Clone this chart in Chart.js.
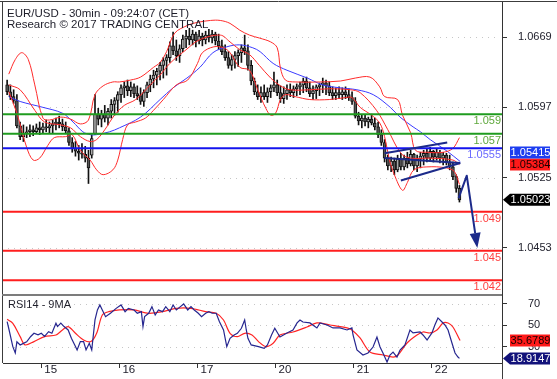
<!DOCTYPE html>
<html><head><meta charset="utf-8">
<script src="https://cdn.jsdelivr.net/npm/chart.js@4.4.1/dist/chart.umd.min.js"></script>
<style>
html,body{margin:0;padding:0;background:#fff;}
#wrap{position:relative;width:557px;height:379px;overflow:hidden;background:#fff;}
canvas{position:absolute;left:0;}
#c1{top:0;width:557px;height:296px;} #c2{top:296px;width:557px;height:83px;}
</style></head><body>
<div id="wrap"><canvas id="c1" width="557" height="296"></canvas><canvas id="c2" width="557" height="83"></canvas></div>
<script>
// ---------------- DATA ----------------
const dayLabels = ['15','16','17','20','21','22'];
const dayStartBars = [0,48,96,144,192,240];          // 30-min bar number where each day starts
const candleStartBar = -21, candleStepBars = 2;      // hourly candles
const opens = [1.0620,1.0613,1.0608,1.0604,1.0578,1.0567,1.0570,1.0572,1.0574,1.0572,
1.0576,1.0574,1.0577,1.0576,1.0578,1.0580,1.0582,1.0580,1.0577,1.0573,
1.0561,1.0555,1.0552,1.0550,1.0549,1.0545,1.0548,1.0570,1.0590,1.0585,
1.0590,1.0586,1.0593,1.0600,1.0604,1.0610,1.0617,1.0619,1.0614,1.0618,
1.0611,1.0609,1.0603,1.0612,1.0620,1.0626,1.0630,1.0634,1.0640,1.0645,
1.0648,1.0660,1.0655,1.0650,1.0657,1.0667,1.0670,1.0666,1.0672,1.0665,
1.0670,1.0666,1.0671,1.0668,1.0672,1.0665,1.0660,1.0654,1.0648,1.0640,
1.0646,1.0650,1.0653,1.0658,1.0655,1.0640,1.0624,1.0613,1.0608,1.0612,
1.0608,1.0613,1.0617,1.0620,1.0612,1.0606,1.0611,1.0615,1.0612,1.0616,
1.0618,1.0620,1.0624,1.0617,1.0611,1.0614,1.0618,1.0620,1.0622,1.0619,
1.0612,1.0609,1.0612,1.0610,1.0613,1.0610,1.0607,1.0603,1.0588,1.0583,
1.0586,1.0582,1.0585,1.0581,1.0577,1.0569,1.0561,1.0545,1.0537,1.0542,
1.0533,1.0544,1.0536,1.0545,1.0539,1.0549,1.0537,1.0544,1.0547,1.0550,
1.0545,1.0552,1.0546,1.0551,1.0545,1.0548,1.0541,1.0536,1.0526,1.0514];
const highs = [1.0625,1.0620,1.0615,1.0610,1.0582,1.0579,1.0577,1.0579,1.0578,1.0580,
1.0582,1.0581,1.0584,1.0582,1.0584,1.0586,1.0588,1.0585,1.0582,1.0576,
1.0566,1.0562,1.0558,1.0560,1.0557,1.0553,1.0569,1.0610,1.0596,1.0594,
1.0599,1.0596,1.0605,1.0607,1.0613,1.0620,1.0623,1.0625,1.0623,1.0621,
1.0619,1.0617,1.0615,1.0623,1.0630,1.0635,1.0637,1.0643,1.0648,1.0651,
1.0664,1.0674,1.0666,1.0661,1.0671,1.0676,1.0678,1.0676,1.0674,1.0676,
1.0673,1.0675,1.0677,1.0676,1.0674,1.0672,1.0666,1.0661,1.0654,1.0651,
1.0654,1.0656,1.0661,1.0671,1.0661,1.0645,1.0627,1.0620,1.0618,1.0620,
1.0617,1.0620,1.0633,1.0625,1.0619,1.0618,1.0620,1.0621,1.0619,1.0621,
1.0623,1.0627,1.0628,1.0623,1.0619,1.0620,1.0622,1.0627,1.0625,1.0623,
1.0618,1.0617,1.0618,1.0617,1.0618,1.0616,1.0613,1.0607,1.0592,1.0589,
1.0589,1.0587,1.0590,1.0586,1.0582,1.0574,1.0564,1.0548,1.0546,1.0545,
1.0548,1.0550,1.0548,1.0551,1.0553,1.0550,1.0548,1.0551,1.0553,1.0555,
1.0556,1.0553,1.0555,1.0553,1.0551,1.0550,1.0548,1.0541,1.0528,1.0517];
const lows = [1.0610,1.0605,1.0601,1.0576,1.0564,1.0562,1.0566,1.0567,1.0568,1.0570,
1.0569,1.0571,1.0572,1.0571,1.0570,1.0574,1.0576,1.0573,1.0570,1.0558,
1.0551,1.0547,1.0543,1.0545,1.0541,1.0519,1.0545,1.0569,1.0579,1.0577,
1.0582,1.0579,1.0586,1.0589,1.0592,1.0602,1.0607,1.0609,1.0608,1.0607,
1.0605,1.0600,1.0598,1.0607,1.0613,1.0617,1.0620,1.0625,1.0627,1.0630,
1.0643,1.0651,1.0645,1.0643,1.0654,1.0658,1.0661,1.0661,1.0659,1.0662,
1.0660,1.0662,1.0664,1.0663,1.0661,1.0656,1.0651,1.0645,1.0637,1.0635,
1.0637,1.0639,1.0643,1.0651,1.0635,1.0620,1.0610,1.0605,1.0602,1.0605,
1.0602,1.0607,1.0613,1.0609,1.0602,1.0601,1.0605,1.0608,1.0607,1.0609,
1.0610,1.0612,1.0613,1.0608,1.0605,1.0606,1.0609,1.0612,1.0610,1.0609,
1.0605,1.0605,1.0606,1.0605,1.0606,1.0604,1.0600,1.0586,1.0579,1.0576,
1.0578,1.0576,1.0579,1.0574,1.0566,1.0558,1.0541,1.0533,1.0531,1.0528,
1.0531,1.0533,1.0533,1.0535,1.0537,1.0533,1.0531,1.0535,1.0538,1.0541,
1.0543,1.0541,1.0543,1.0540,1.0538,1.0538,1.0533,1.0523,1.0510,1.0500];
const closes = [1.0613,1.0608,1.0604,1.0578,1.0567,1.0570,1.0572,1.0574,1.0572,1.0576,
1.0574,1.0577,1.0576,1.0578,1.0580,1.0582,1.0580,1.0577,1.0573,1.0561,
1.0555,1.0552,1.0550,1.0549,1.0545,1.0535,1.0565,1.0590,1.0585,1.0590,
1.0586,1.0593,1.0600,1.0604,1.0610,1.0617,1.0619,1.0614,1.0618,1.0611,
1.0609,1.0603,1.0612,1.0620,1.0626,1.0630,1.0634,1.0640,1.0645,1.0648,
1.0660,1.0655,1.0650,1.0657,1.0667,1.0670,1.0666,1.0672,1.0665,1.0670,
1.0666,1.0671,1.0668,1.0672,1.0665,1.0660,1.0654,1.0648,1.0640,1.0646,
1.0650,1.0653,1.0658,1.0655,1.0640,1.0624,1.0613,1.0608,1.0612,1.0608,
1.0613,1.0617,1.0620,1.0612,1.0606,1.0611,1.0615,1.0612,1.0616,1.0618,
1.0620,1.0624,1.0617,1.0611,1.0614,1.0618,1.0620,1.0622,1.0619,1.0612,
1.0609,1.0612,1.0610,1.0613,1.0610,1.0607,1.0603,1.0588,1.0583,1.0586,
1.0582,1.0585,1.0581,1.0577,1.0569,1.0561,1.0545,1.0537,1.0542,1.0533,
1.0544,1.0536,1.0545,1.0539,1.0549,1.0537,1.0544,1.0547,1.0550,1.0545,
1.0552,1.0546,1.0551,1.0545,1.0548,1.0541,1.0536,1.0526,1.0514,1.05023];

// Bollinger bands (bar, price)
const bbUpper = [[-20,1.0631],[-16,1.0646],[-12,1.0653],[-8,1.0646],[-4,1.0620],[1,1.0586],[5,1.0584],[12,1.0587],[18,1.0585],[24,1.0580],[29,1.0584],[33,1.0610],[38,1.0619],[44,1.0623],[48,1.0623],[55,1.0625],[61,1.0628],[69,1.0638],[73,1.0643],[77,1.0654],[82,1.0673],[90,1.0681],[96,1.0684],[104,1.0686],[110,1.0686],[116,1.0683],[122,1.0676],[128,1.0671],[134,1.0668],[141,1.0664],[145,1.0658],[147,1.0637],[150,1.0625],[156,1.0623],[171,1.0623],[184,1.0624],[193,1.0627],[202,1.0628],[208,1.0618],[211,1.0608],[219,1.0605],[222,1.0589],[227,1.0571],[230,1.0553],[237,1.0551],[247,1.0551],[253,1.0555],[257,1.0566]];
const bbMiddle = [[-20,1.0620],[-13,1.0615],[-4,1.0594],[2,1.0582],[12,1.0579],[18,1.0576],[24,1.0567],[30,1.0562],[34,1.0564],[39,1.0574],[45,1.0589],[51,1.0599],[58,1.0605],[67,1.0620],[73,1.0630],[79,1.0642],[89,1.0656],[97,1.0666],[110,1.0671],[116,1.0664],[122,1.0656],[128,1.0651],[134,1.0640],[141,1.0627],[147,1.0619],[153,1.0615],[165,1.0615],[177,1.0616],[190,1.0615],[196,1.0612],[206,1.0594],[213,1.0574],[221,1.0550],[227,1.0545],[239,1.0545],[253,1.0543],[257,1.05384]];
const bbLower = [[-20,1.0613],[-15,1.0591],[-9,1.0556],[-5,1.0543],[-1,1.0545],[4,1.0558],[8,1.0566],[15,1.0567],[19,1.0569],[24,1.0553],[30,1.0543],[34,1.0533],[38,1.0528],[44,1.0533],[47,1.0543],[50,1.0564],[53,1.0579],[58,1.0582],[64,1.0586],[69,1.0594],[75,1.0605],[83,1.0620],[90,1.0625],[96,1.0642],[99,1.0653],[106,1.0659],[112,1.0658],[116,1.0653],[122,1.0638],[128,1.0635],[133,1.0615],[138,1.0596],[141,1.0589],[144,1.0591],[147,1.0605],[150,1.0610],[156,1.0608],[165,1.0605],[177,1.0605],[187,1.0607],[191,1.0607],[196,1.0597],[203,1.0589],[208,1.0581],[211,1.0567],[214,1.0543],[217,1.0528],[222,1.0512],[225,1.0520],[229,1.0533],[237,1.0536],[249,1.0535],[254,1.0531],[257,1.0518]];
const blueMA = [[-20,1.0608],[-13,1.0603],[1,1.0597],[13,1.0591],[19.5,1.0582],[25.5,1.0572],[30,1.0569],[34,1.0569],[42,1.0572],[48,1.0576],[61,1.0587],[73,1.0605],[81,1.0617],[89.5,1.0627],[97.5,1.0638],[105.5,1.0653],[114,1.0659],[122,1.0661],[130,1.0658],[134.5,1.0654],[142.5,1.0642],[151,1.0635],[163.5,1.0627],[173,1.0620],[183.5,1.0617],[194,1.0615],[204,1.0610],[214.5,1.0597],[220.5,1.0587],[228.5,1.0577],[233,1.0572],[239,1.0564],[249.5,1.0552],[257.5,1.05415]];

// RSI(14) and its 9-period MA (bar, value)
const rsi14 = [[-21,53.4],[-20,47],[-17.5,30],[-16,24],[-15,34.5],[-13,31.5],[-11,33],[-9,34.5],[-6.5,39.5],[-4.5,42.5],[-2,41],[0,42.5],[2,39.5],[4.5,44],[6.5,42.5],[9,52],[10,48.8],[12,52],[14,48.8],[16.5,45.6],[18.5,37.8],[21,30],[22,26.9],[24,34.7],[26,34.7],[27.5,26.9],[29.5,33.1],[31,26.9],[33,55],[34.5,64.4],[36,69.1],[37.5,64.4],[39.5,58.1],[42.5,61.3],[46,65.9],[49,69.1],[51.5,62.8],[53.5,65.9],[57,64.4],[59,61.3],[61.5,62.8],[62.5,48.8],[63.5,58.1],[66,61.3],[68,67.5],[70,59.7],[72,64.4],[74.5,62.8],[76.5,67.5],[79,62.8],[81,69.1],[83,64.4],[85.5,67.5],[87.5,70],[90,64.4],[92,67.5],[94,64.4],[96.5,61.3],[98.5,58.1],[101,61.3],[103,62.8],[105,61.3],[107.5,61.3],[109.5,53.4],[112,45.6],[114,30],[116,37.8],[118.5,40.9],[120.5,42.5],[123,47.2],[125,55],[126,45.6],[127,37.8],[129,31.6],[133.5,30],[137,28.4],[139,31.6],[141.5,40.9],[143.5,47.2],[146.7,39],[151,42.8],[154.7,45.6],[157.2,52.2],[159,55],[160.8,53.1],[165.1,52.2],[169.4,47.5],[171.3,52.2],[175.6,50.3],[179.3,47.5],[183.6,47.5],[187.9,45.6],[190.9,47.5],[191.6,40.9],[194,26.8],[197.7,22.1],[200.8,24],[203.9,29.6],[206.3,39],[208.2,29.6],[210,24],[212.5,15.5],[214.3,22.1],[216.2,24.9],[218.6,20.2],[220.5,26.8],[223.5,31.5],[226.6,45.6],[228.5,42.8],[232.8,43.7],[234.6,40.9],[237.1,36.2],[240.1,42.8],[241.9,50.3],[243.8,56.9],[246.3,53.1],[248.1,50.3],[250,45.6],[252.4,33.4],[254.3,24],[256.1,20.2],[257,18.9147]];
const rsiMA9 = [[-21,55.6],[-17.5,51.9],[-13,39.4],[-10,31.6],[-4.5,34.7],[2,39.4],[9,40.9],[13,45.6],[16.5,48.8],[21,42.5],[26,36.2],[30.5,34.7],[34,42.5],[37.5,59.7],[41.5,62.8],[48,64.4],[57,64.4],[66,61.3],[74.5,62.8],[83,65.9],[92,65.9],[101,62.8],[107.5,61.3],[112,55],[116,42.5],[120.5,39.4],[125,42.5],[129.5,40.9],[133.5,34.7],[138,30],[142.5,33.1],[146.7,40.9],[154.7,43.7],[163.3,48.4],[169.4,52.2],[177.4,50.3],[187.9,47.5],[190.9,45.6],[195.9,38.1],[202,24.9],[210,22.1],[216.2,20.2],[219.2,22.1],[224.8,33.4],[230.9,40.9],[234.6,43.7],[238.9,42.8],[243.2,45.6],[246.9,52.2],[250,52.2],[253,48.4],[257.4,35.6789]];

// Horizontal levels
const greenLevels = [1.059, 1.057];
const blueLevels = [1.0555];
const redLevels = [1.049, 1.045, 1.042];
const priceTicks = [1.0453, 1.0525, 1.0597, 1.0669];
const rsiTicks = [30, 50, 70];

// Analyst drawings (bar, price)
const flagLines = [[[211,1.0550],[249.5,1.0561]], [[211,1.0545],[257.5,1.0540]], [[221,1.0522],[257.5,1.0540]]];
const forecastPath = [[256.5,1.0504],[261.5,1.0527],[268,1.0453]];

// axis ranges
const xMin = -23.54, xMax = 283.16;
const priceMin = 1.04048, priceMax = 1.07049;
const rsiMin = 14.6, rsiMax = 77.5;

// ---------------- RENDER ----------------
const FONT = '"Liberation Sans Narrow", "Liberation Sans", Arial, sans-serif';
Chart.defaults.font.family = FONT;
Chart.defaults.font.size = 11;
Chart.defaults.color = '#22222e';

const candleBars = opens.map((o, i) => candleStartBar + i * candleStepBars);
const xy = arr => arr.map(([x, y]) => ({x, y}));
const last = arr => arr[arr.length - 1][1];
const noPad = (w, h) => s => { if (w) s.width = w; if (h) s.height = h; s.paddingTop = 0; s.paddingBottom = 0; s.paddingLeft = 0; s.paddingRight = 0; };

function drawBox(ctx, cy, text, bg, fg, arrow) {
  const h = 12, x0 = 510, x1 = 550;
  ctx.save();
  ctx.fillStyle = bg; ctx.beginPath();
  if (arrow) { ctx.moveTo(503, cy); ctx.lineTo(x0, cy - h / 2); } else ctx.moveTo(x0, cy - h / 2);
  ctx.lineTo(x1, cy - h / 2); ctx.lineTo(x1, cy + h / 2); ctx.lineTo(x0, cy + h / 2);
  if (arrow) ctx.lineTo(503, cy);
  ctx.closePath(); ctx.fill();
  ctx.fillStyle = fg; ctx.font = '11px ' + FONT; ctx.textAlign = 'center'; ctx.textBaseline = 'middle';
  ctx.fillText(text, (x0 + x1) / 2 + 0.5, cy + 0.5);
  ctx.restore();
}
function dots(ctx, a, py) {
  for (let px = a.left + 5; px < a.right - 2; px += 6) ctx.fillRect(px, py, 1, 1);
}

const pricePlugin = {
  id: 'pricePlugin',
  beforeDatasetsDraw(chart) {
    const {ctx, chartArea: a, scales: {y}} = chart;
    ctx.save(); ctx.fillStyle = '#c6c6c6';
    priceTicks.forEach(v => dots(ctx, a, Math.round(y.getPixelForValue(v))));
    ctx.restore();
  },
  afterDatasetsDraw(chart) {
    const {ctx, chartArea: a, scales: {x, y}} = chart;
    ctx.save();
    ctx.beginPath(); ctx.rect(a.left, a.top, a.right - a.left, a.bottom - a.top); ctx.clip();
    const groups = [[greenLevels, '#1f9c1f', '#5ea83c'], [blueLevels, '#1414ee', '#6a6aff'], [redLevels, '#ff1e1e', '#ff4040']];
    ctx.font = '11px ' + FONT; ctx.textAlign = 'right'; ctx.textBaseline = 'alphabetic';
    groups.forEach(([vals, lc, tc]) => vals.forEach(v => {
      const py = y.getPixelForValue(v);
      ctx.strokeStyle = lc; ctx.lineWidth = 2;
      ctx.beginPath(); ctx.moveTo(a.left, py); ctx.lineTo(a.right, py); ctx.stroke();
      ctx.fillStyle = tc;
      ctx.fillText(String(v), a.right - 1, py + 10);
    }));
    // flag + forecast arrow
    ctx.strokeStyle = '#1c2a8a'; ctx.fillStyle = '#1c2a8a'; ctx.lineWidth = 2; ctx.lineJoin = 'round';
    flagLines.forEach(seg => {
      ctx.beginPath();
      seg.forEach(([bx, p], i) => { const px = x.getPixelForValue(bx), py = y.getPixelForValue(p); i ? ctx.lineTo(px, py) : ctx.moveTo(px, py); });
      ctx.stroke();
    });
    const pts = forecastPath.map(([bx, p]) => [x.getPixelForValue(bx), y.getPixelForValue(p)]);
    const [tx, ty] = pts[pts.length - 1], [px0, py0] = pts[pts.length - 2];
    const ang = Math.atan2(ty - py0, tx - px0), L = 15, W = 5.5;
    const bxp = tx - L * Math.cos(ang), byp = ty - L * Math.sin(ang);
    ctx.beginPath(); ctx.moveTo(pts[0][0], pts[0][1]);
    for (let i = 1; i < pts.length - 1; i++) ctx.lineTo(pts[i][0], pts[i][1]);
    ctx.lineTo(bxp, byp); ctx.stroke();
    ctx.beginPath(); ctx.moveTo(tx, ty);
    ctx.lineTo(bxp + W * Math.sin(ang), byp - W * Math.cos(ang));
    ctx.lineTo(bxp - W * Math.sin(ang), byp + W * Math.cos(ang));
    ctx.closePath(); ctx.fill();
    ctx.restore();
  },
  afterDraw(chart) {
    const {ctx, chartArea: a, scales: {y}} = chart;
    ctx.save();
    // titles
    ctx.fillStyle = '#1e1e2a'; ctx.font = '11.5px ' + FONT; ctx.textAlign = 'left'; ctx.textBaseline = 'alphabetic';
    ctx.fillText('EUR/USD - 30min - 09:24:07 (CET)', 7, 17);
    ctx.fillText('Research \u00A9 2017 TRADING CENTRAL', 7, 28);
    // frame
    ctx.strokeStyle = '#3c3c3c'; ctx.lineWidth = 1;
    ctx.beginPath(); ctx.moveTo(0, 1.5); ctx.lineTo(557, 1.5); ctx.stroke();
    ctx.beginPath(); ctx.moveTo(2.5, 1); ctx.lineTo(2.5, 296); ctx.stroke();
    ctx.fillStyle = '#7c7c7c'; ctx.fillRect(2, 294, a.right - 2, 2);
    // value boxes
    const closeY = y.getPixelForValue(closes[closes.length - 1]);
    const midY = y.getPixelForValue(last(bbMiddle));
    let maY = y.getPixelForValue(last(blueMA));
    if (Math.abs(maY - midY) < 12) maY = midY - 12;
    drawBox(ctx, midY, last(bbMiddle).toFixed(5), '#ff1a1a', '#1a0000', false);
    drawBox(ctx, maY, last(blueMA).toFixed(5), '#1d3df0', '#ffffff', false);
    drawBox(ctx, closeY, closes[closes.length - 1].toFixed(5), '#000000', '#ffffff', true);
    ctx.restore();
  }
};

new Chart(document.getElementById('c1'), {
  type: 'bar',
  data: {
    datasets: [
      {type: 'line', data: xy(bbUpper), borderColor: '#ff2b2b', borderWidth: 1, pointRadius: 0, tension: 0.35, order: 1},
      {type: 'line', data: xy(bbMiddle), borderColor: '#ff2b2b', borderWidth: 1, pointRadius: 0, tension: 0.35, order: 1},
      {type: 'line', data: xy(bbLower), borderColor: '#ff2b2b', borderWidth: 1, pointRadius: 0, tension: 0.35, order: 1},
      {type: 'line', data: xy(blueMA), borderColor: '#3b3bff', borderWidth: 1, pointRadius: 0, tension: 0.35, order: 2},
      {type: 'bar', data: candleBars.map((b, i) => ({x: b, y: [lows[i], highs[i]]})), backgroundColor: '#111', barThickness: 1, grouped: false, order: 10},
      {type: 'bar', data: candleBars.map((b, i) => ({x: b, y: [Math.min(opens[i], closes[i]), Math.max(opens[i], closes[i])]})),
       backgroundColor: candleBars.map((b, i) => closes[i] >= opens[i] ? '#a9a9a9' : '#555'), borderColor: '#111', borderWidth: 1, borderSkipped: false,
       barThickness: 3, minBarLength: 1, grouped: false, order: 9}
    ]
  },
  options: {
    responsive: false, maintainAspectRatio: false, animation: false, devicePixelRatio: 1,
    layout: {autoPadding: false, padding: {left: 3, top: 2, right: 0, bottom: 1}},
    plugins: {legend: {display: false}, tooltip: {enabled: false}},
    scales: {
      x: {type: 'linear', min: xMin, max: xMax, display: false, offset: false, grid: {offset: false}},
      y: {position: 'right', min: priceMin, max: priceMax,
          afterBuildTicks: s => { s.ticks = priceTicks.map(v => ({value: v})); },
          afterFit: noPad(55, 0),
          ticks: {callback: v => v.toFixed(4), padding: 11, font: {size: 11}, color: '#22222e'},
          grid: {drawOnChartArea: false, drawTicks: true, tickLength: 5, color: '#333', tickWidth: 1},
          border: {display: true, color: '#333', width: 1}}
    }
  },
  plugins: [pricePlugin]
});

const rsiPlugin = {
  id: 'rsiPlugin',
  beforeDatasetsDraw(chart) {
    const {ctx, chartArea: a, scales: {y}} = chart;
    ctx.save(); ctx.fillStyle = '#c6c6c6';
    rsiTicks.forEach(v => dots(ctx, a, Math.round(y.getPixelForValue(v))));
    ctx.restore();
  },
  afterDraw(chart) {
    const {ctx, chartArea: a, scales: {y}} = chart;
    ctx.save();
    ctx.font = '11px ' + FONT; ctx.textAlign = 'left'; ctx.textBaseline = 'alphabetic';
    const w = ctx.measureText('RSI14 - 9MA').width;
    ctx.fillStyle = '#fff'; ctx.fillRect(6, 2, w + 4, 12);
    ctx.fillStyle = '#1e1e2a'; ctx.fillText('RSI14 - 9MA', 8, 11.5);
    ctx.strokeStyle = '#3c3c3c'; ctx.lineWidth = 1;
    ctx.beginPath(); ctx.moveTo(2.5, 0); ctx.lineTo(2.5, a.bottom); ctx.stroke();
    ctx.beginPath(); ctx.moveTo(a.right + 0.5, a.bottom); ctx.lineTo(a.right + 0.5, 83); ctx.stroke();
    drawBox(ctx, y.getPixelForValue(last(rsiMA9)), last(rsiMA9).toFixed(4), '#ff1a1a', '#1a0000', false);
    drawBox(ctx, y.getPixelForValue(last(rsi14)), last(rsi14).toFixed(4), '#12127a', '#ffffff', true);
    ctx.restore();
  }
};

new Chart(document.getElementById('c2'), {
  type: 'line',
  data: {
    datasets: [
      {data: xy(rsi14), borderColor: '#26268f', borderWidth: 1.2, pointRadius: 0, tension: 0, order: 1},
      {data: xy(rsiMA9), borderColor: '#ff2424', borderWidth: 1.2, pointRadius: 0, tension: 0.3, order: 2}
    ]
  },
  options: {
    responsive: false, maintainAspectRatio: false, animation: false, devicePixelRatio: 1,
    layout: {autoPadding: false, padding: {left: 3, top: 0, right: 0, bottom: 0}},
    plugins: {legend: {display: false}, tooltip: {enabled: false}},
    scales: {
      x: {type: 'linear', min: xMin, max: xMax, position: 'bottom', offset: false,
          afterBuildTicks: s => { s.ticks = dayStartBars.map(v => ({value: v})); },
          afterFit: noPad(0, 16),
          ticks: {callback: v => dayLabels[dayStartBars.indexOf(v)], autoSkip: false, maxRotation: 0, align: 'start', labelOffset: 3, padding: 0,
                  font: {size: 11.5, lineHeight: 0.4}, color: '#22222e'},
          grid: {drawOnChartArea: false, drawTicks: true, tickLength: 5, color: '#333', offset: false},
          border: {display: true, color: '#333', width: 1}},
      y: {position: 'right', min: rsiMin, max: rsiMax,
          afterBuildTicks: s => { s.ticks = rsiTicks.map(v => ({value: v})); },
          afterFit: noPad(55, 0),
          ticks: {callback: v => String(v), padding: 21, font: {size: 11}, color: '#22222e'},
          grid: {drawOnChartArea: false, drawTicks: true, tickLength: 5, color: '#333'},
          border: {display: true, color: '#333', width: 1}}
    }
  },
  plugins: [rsiPlugin]
});
</script>
</body></html>
